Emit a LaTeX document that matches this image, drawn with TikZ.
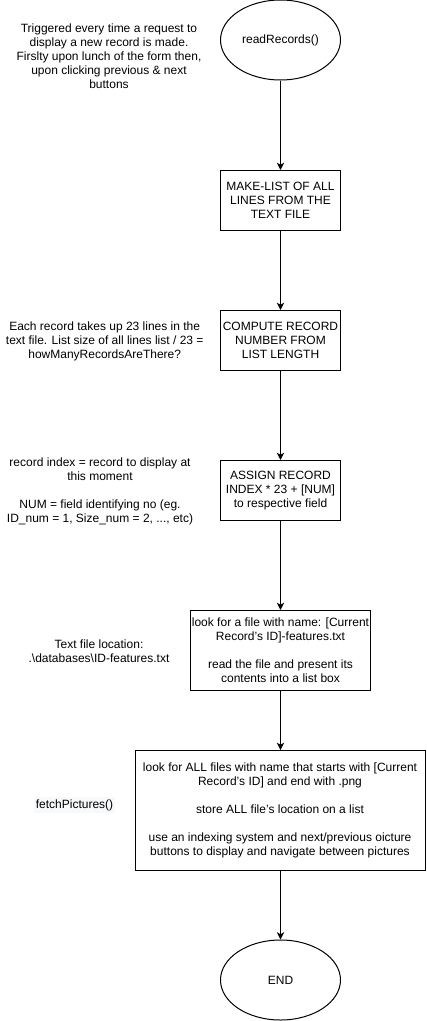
\documentclass[tikz,border=0pt]{standalone}
\usepackage{fontspec}
\setmainfont{Liberation Sans}
\usepackage{tikz}
\usetikzlibrary{arrows, arrows.meta}
\usetikzlibrary{shapes.geometric}
\definecolor{notebg}{RGB}{248,249,250}
\newcommand{\sq}{{\char39}}

\begin{document}
\begin{tikzpicture}[x=0.75pt,y=-0.75pt,
  font=\fontsize{9}{10.5}\selectfont,
  every node/.style={align=center,inner sep=0pt},
  term/.style={draw,ellipse,minimum width=90pt,minimum height=60pt,line width=0.75pt},
  proc/.style={draw,rectangle,line width=0.75pt},
  flow/.style={-{Stealth[length=5.5pt,width=5.5pt,inset=1.6pt]},line width=0.75pt}]
\useasboundingbox (0,0) rectangle (427,1021);
\node[term] (start) at (280.5,40) {readRecords()};
\node at (109,56) {Triggered every time a request to\\display a new record is made.\\Firslty upon lunch of the form then,\\upon clicking previous \& next\\buttons};
\node[proc,minimum width=90pt,minimum height=45pt] (makelist) at (280.5,200.5) {MAKE-LIST OF ALL\\LINES FROM THE\\TEXT FILE};
\node[proc,minimum width=90pt,minimum height=45pt] (compute) at (280.5,340.5) {COMPUTE RECORD\\NUMBER FROM\\LIST LENGTH};
\node at (104.7,341) {Each record takes up 23 lines in the\\text file. List size of all lines list / 23 =\\howManyRecordsAreThere?};
\node[proc,minimum width=90pt,minimum height=45pt] (assign) at (280.5,490.5) {ASSIGN RECORD\\INDEX * 23 + [NUM]\\to respective field};
\node at (100,491) {record index = record to display at\\this moment\\[10.5pt]NUM = field identifying no (eg.\\ID\_num = 1, Size\_num = 2, ..., etc)};
\node[proc,minimum width=135pt,minimum height=60pt] (features) at (280.5,650.5) {look for a file with name: [Current\\Record\sq s ID]-features.txt\\[10.5pt]read the file and present its\\contents into a list box};
\node at (99,651) {Text file location:\\.\textbackslash databases\textbackslash ID-features.txt};
\node[proc,minimum width=217.5pt,minimum height=90pt] (pictures) at (280,810.5) {look for ALL files with name that starts with [Current\\Record\sq s ID] and end with .png\\[10.5pt]store ALL file\sq s location on a list\\[10.5pt]use an indexing system and next/previous oicture\\buttons to display and navigate between pictures};
\node[fill=notebg,inner sep=1.5pt] (fetch) at (74.5,805) {fetchPictures()};
\node[term] (stop) at (280.5,980) {END};
\draw[flow] (start) -- (makelist);
\draw[flow] (makelist) -- (compute);
\draw[flow] (compute) -- (assign);
\draw[flow] (assign) -- (features);
\draw[flow] (features) -- (pictures.north -| features.south);
\draw[flow] (pictures.south -| stop.north) -- (stop);
\end{tikzpicture}
\end{document}
